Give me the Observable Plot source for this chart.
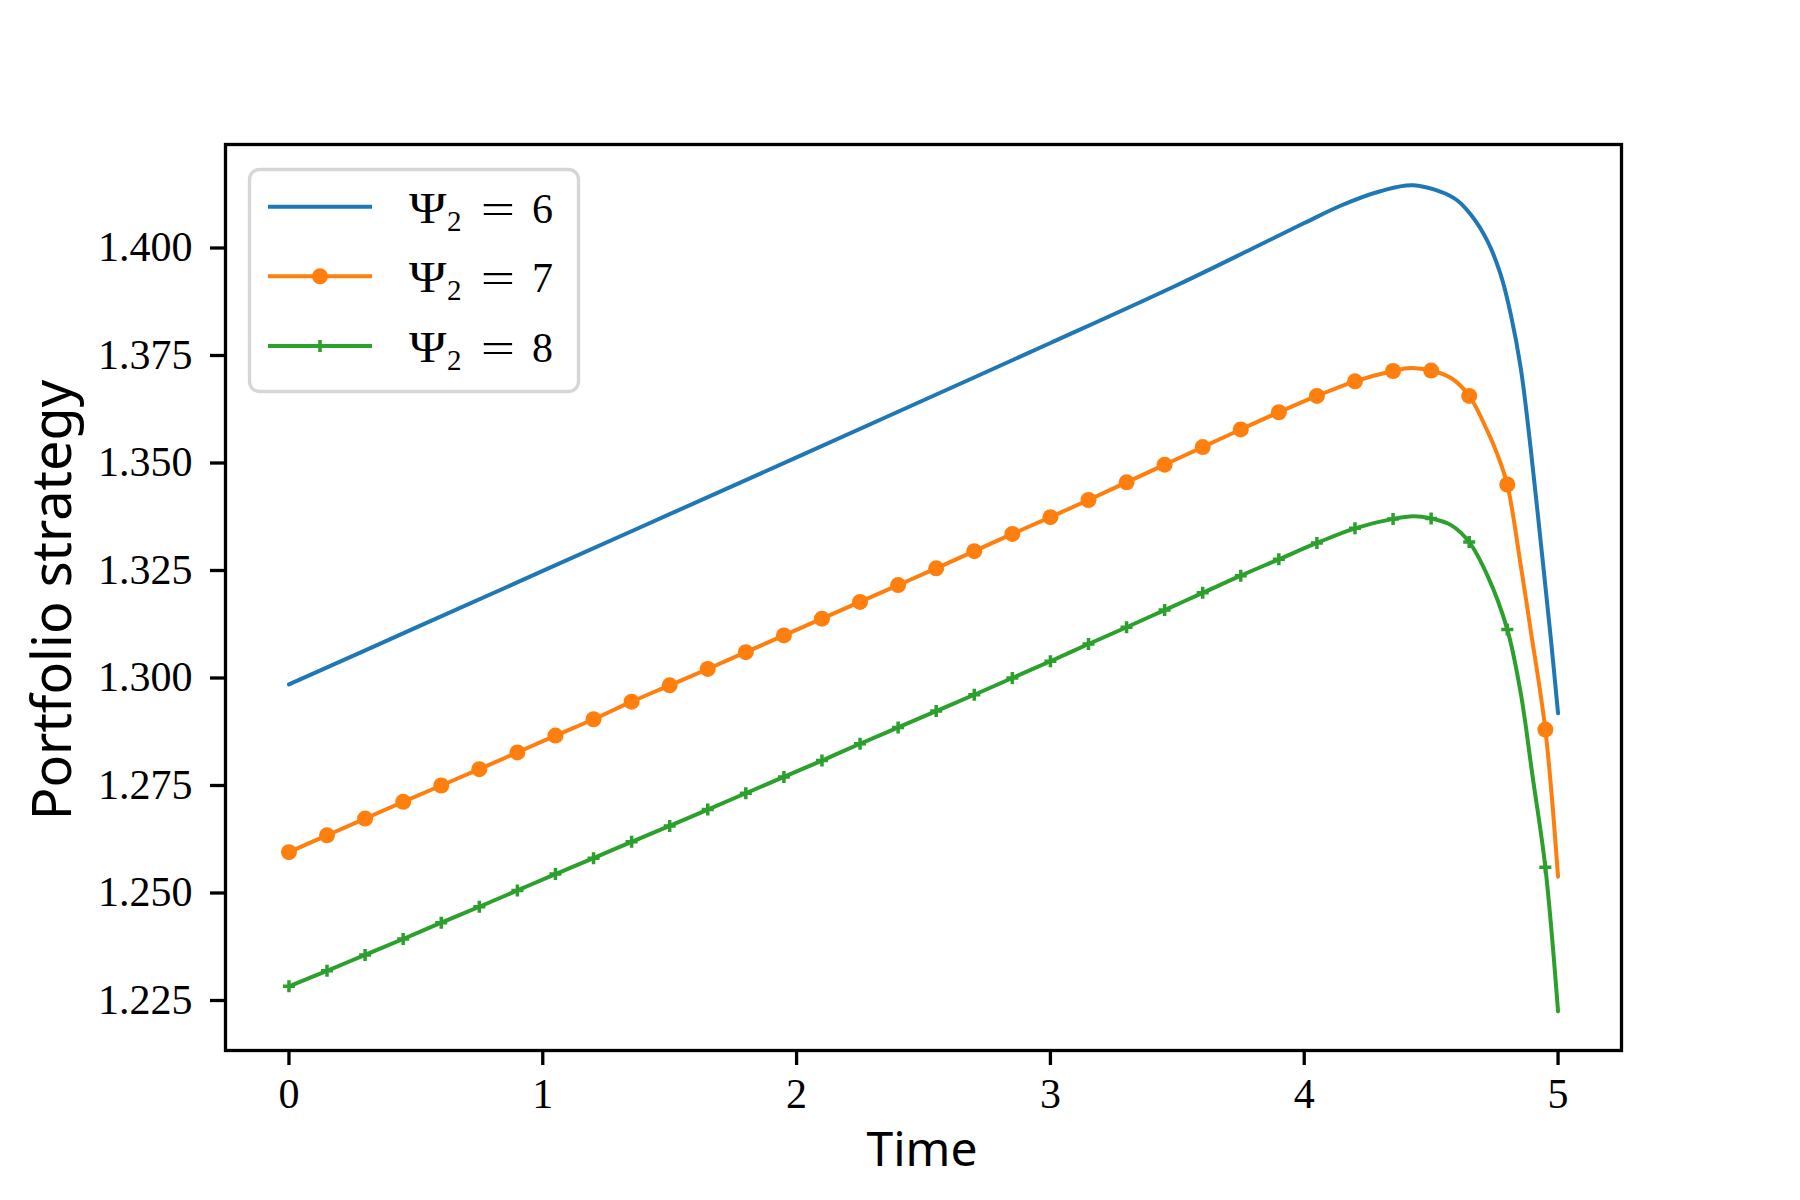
<!DOCTYPE html>
<html><head><meta charset="utf-8">
<script src="https://cdn.jsdelivr.net/npm/d3@7"></script>
<script src="https://cdn.jsdelivr.net/npm/@observablehq/plot@0.6"></script>
<style>body{margin:0;background:#fff}</style>
</head><body><div id="chart"></div>
<script>
// ---- data ----
const blueT = [0, 0.5, 1.0, 1.5, 2.0, 2.5, 3.0, 3.5, 3.8, 4.0, 4.15, 4.3, 4.43, 4.59, 4.656, 4.722, 4.774, 4.814, 4.853, 4.892, 4.932, 4.971, 5.0];
const blueV = [1.2985, 1.3117, 1.3249, 1.3381, 1.3513, 1.3646, 1.3779, 1.3914, 1.4000, 1.4058, 1.4100, 1.4132, 1.4146, 1.4116, 1.4078, 1.4016, 1.3938, 1.3845, 1.3721, 1.3535, 1.3315, 1.3095, 1.2918];

const markT = [0,0.15,0.3,0.45,0.6,0.75,0.9,1.05,1.2,1.35,1.5,1.65,1.8,1.95,2.1,2.25,2.4,2.55,2.7,2.85,3.0,3.15,3.3,3.45,3.6,3.75,3.9,4.05,4.2,4.35,4.5,4.65,4.8,4.95];
const orangeMarkV = [1.2595,1.2634,1.2673,1.2712,1.2750,1.2788,1.2827,1.2866,1.2904,1.2945,1.2983,1.3021,1.3060,1.3099,1.3138,1.3177,1.3216,1.3255,1.3295,1.3335,1.3374,1.3414,1.3455,1.3496,1.3537,1.3578,1.3618,1.3656,1.3690,1.3714,1.3715,1.3656,1.3450,1.2880];
const orangeExtraT = [4.42, 4.58, 4.722, 4.761, 4.853, 4.892, 5.0];
const orangeExtraV = [1.3721, 1.3697, 1.3574, 1.3520, 1.3262, 1.3112, 1.2538];

const greenMarkV = [1.2283,1.2319,1.2356,1.2393,1.2431,1.2468,1.2506,1.2544,1.2581,1.2619,1.2656,1.2694,1.2732,1.2770,1.2808,1.2847,1.2885,1.2923,1.2961,1.3000,1.3039,1.3079,1.3118,1.3158,1.3198,1.3238,1.3276,1.3314,1.3348,1.3370,1.3371,1.3316,1.3113,1.2560];
const greenExtraT = [4.43, 4.58, 4.722, 4.853, 4.90, 5.0];
const greenExtraV = [1.3376, 1.3355, 1.3238, 1.2965, 1.2770, 1.2225];

const xTicks = [0, 1, 2, 3, 4, 5];
const yTicks = [1.225, 1.250, 1.275, 1.300, 1.325, 1.350, 1.375, 1.400];
const psiValues = [6, 7, 8];
const colors = ["#1f77b4", "#ff7f0e", "#2ca02c"];
const xLabel = "Time";
const yLabel = "Portfolio strategy";

// ---- tables ----
const zip = (T, V) => T.map((t, i) => ({t, v: V[i]}));
const blue = zip(blueT, blueV);
const orangeMarks = zip(markT, orangeMarkV);
const greenMarks = zip(markT, greenMarkV);
const orangeLine = orangeMarks.concat(zip(orangeExtraT, orangeExtraV)).sort((a, b) => a.t - b.t);
const greenLine = greenMarks.concat(zip(greenExtraT, greenExtraV)).sort((a, b) => a.t - b.t);

const thinPlus = {
  draw(ctx, size) {
    const r = Math.sqrt(size / Math.PI);
    ctx.moveTo(-r, 0); ctx.lineTo(r, 0);
    ctx.moveTo(0, -r); ctx.lineTo(0, r);
  }
};

const plot = Plot.plot({
  width: 1800, height: 1200,
  marginLeft: 225, marginRight: 179, marginTop: 144, marginBottom: 150,
  style: {fontFamily: "'Liberation Serif', serif", fontSize: "42px", background: "white", color: "black"},
  x: {domain: [-0.25, 5.25]},
  y: {domain: [1.21337, 1.42407]},
  marks: [
    Plot.axisX({ticks: xTicks, tickSize: 15, tickPadding: 13, strokeWidth: 3.3, tickFormat: d3.format("d"), label: null, fontSize: 42}),
    Plot.axisY({ticks: yTicks, tickSize: 15, tickPadding: 18, strokeWidth: 3.3, tickFormat: d3.format(".3f"), label: null, fontSize: 42}),
    Plot.line(blue, {x: "t", y: "v", stroke: colors[0], strokeWidth: 4, curve: "catmull-rom"}),
    Plot.line(orangeLine, {x: "t", y: "v", stroke: colors[1], strokeWidth: 4, curve: "catmull-rom"}),
    Plot.dot(orangeMarks, {x: "t", y: "v", r: 8, fill: colors[1]}),
    Plot.line(greenLine, {x: "t", y: "v", stroke: colors[2], strokeWidth: 4, curve: "catmull-rom"}),
    Plot.dot(greenMarks, {x: "t", y: "v", r: 6, symbol: thinPlus, stroke: colors[2], strokeWidth: 3.5, fill: "none"}),
    Plot.frame({stroke: "black", strokeWidth: 3.3})
  ]
});

const svg = d3.select(plot);

// axis titles
svg.append("text").attr("x", 922).attr("y", 1166).attr("text-anchor", "middle")
  .attr("font-family", "'Noto Sans', sans-serif").attr("font-size", 48).attr("fill", "black").text(xLabel);
svg.append("text").attr("transform", "translate(71,600) rotate(-90)").attr("text-anchor", "middle")
  .attr("font-family", "'Noto Sans', sans-serif").attr("font-size", 54).attr("fill", "black").text(yLabel);

// legend
const lg = svg.append("g");
lg.append("rect").attr("x", 249.5).attr("y", 169.5).attr("width", 329).attr("height", 222).attr("rx", 10)
  .attr("fill", "white").attr("fill-opacity", 0.8).attr("stroke", "#d6d6d6").attr("stroke-width", 3.3);
psiValues.forEach((p, i) => {
  const yy = 206.7 + i * 69.6;
  lg.append("line").attr("x1", 268).attr("x2", 372).attr("y1", yy).attr("y2", yy)
    .attr("stroke", colors[i]).attr("stroke-width", 4);
  if (i === 1) lg.append("circle").attr("cx", 320).attr("cy", yy).attr("r", 8).attr("fill", colors[i]);
  if (i === 2) lg.append("path").attr("d", `M314,${yy}H326M320,${yy - 6}V${yy + 6}`).attr("stroke", colors[i]).attr("stroke-width", 3.5);
  const t = lg.append("g").attr("fill", "black").attr("font-family", "'Liberation Serif', serif").attr("text-anchor", "start");
  t.append("text").attr("transform", `translate(409,${yy + 16}) scale(1.15,1)`).attr("font-size", 44).attr("text-anchor", "start").text("Ψ");
  t.append("text").attr("x", 447).attr("y", yy + 24).attr("font-size", 29).attr("text-anchor", "start").text("2");
  t.append("text").attr("transform", `translate(498,${yy + 16}) scale(1.45,1)`).attr("font-size", 42).attr("text-anchor", "middle").text("=");
  t.append("text").attr("x", 532).attr("y", yy + 16).attr("font-size", 42).attr("text-anchor", "start").text(String(p));
});

document.getElementById("chart").appendChild(plot);
</script>
</body></html>
